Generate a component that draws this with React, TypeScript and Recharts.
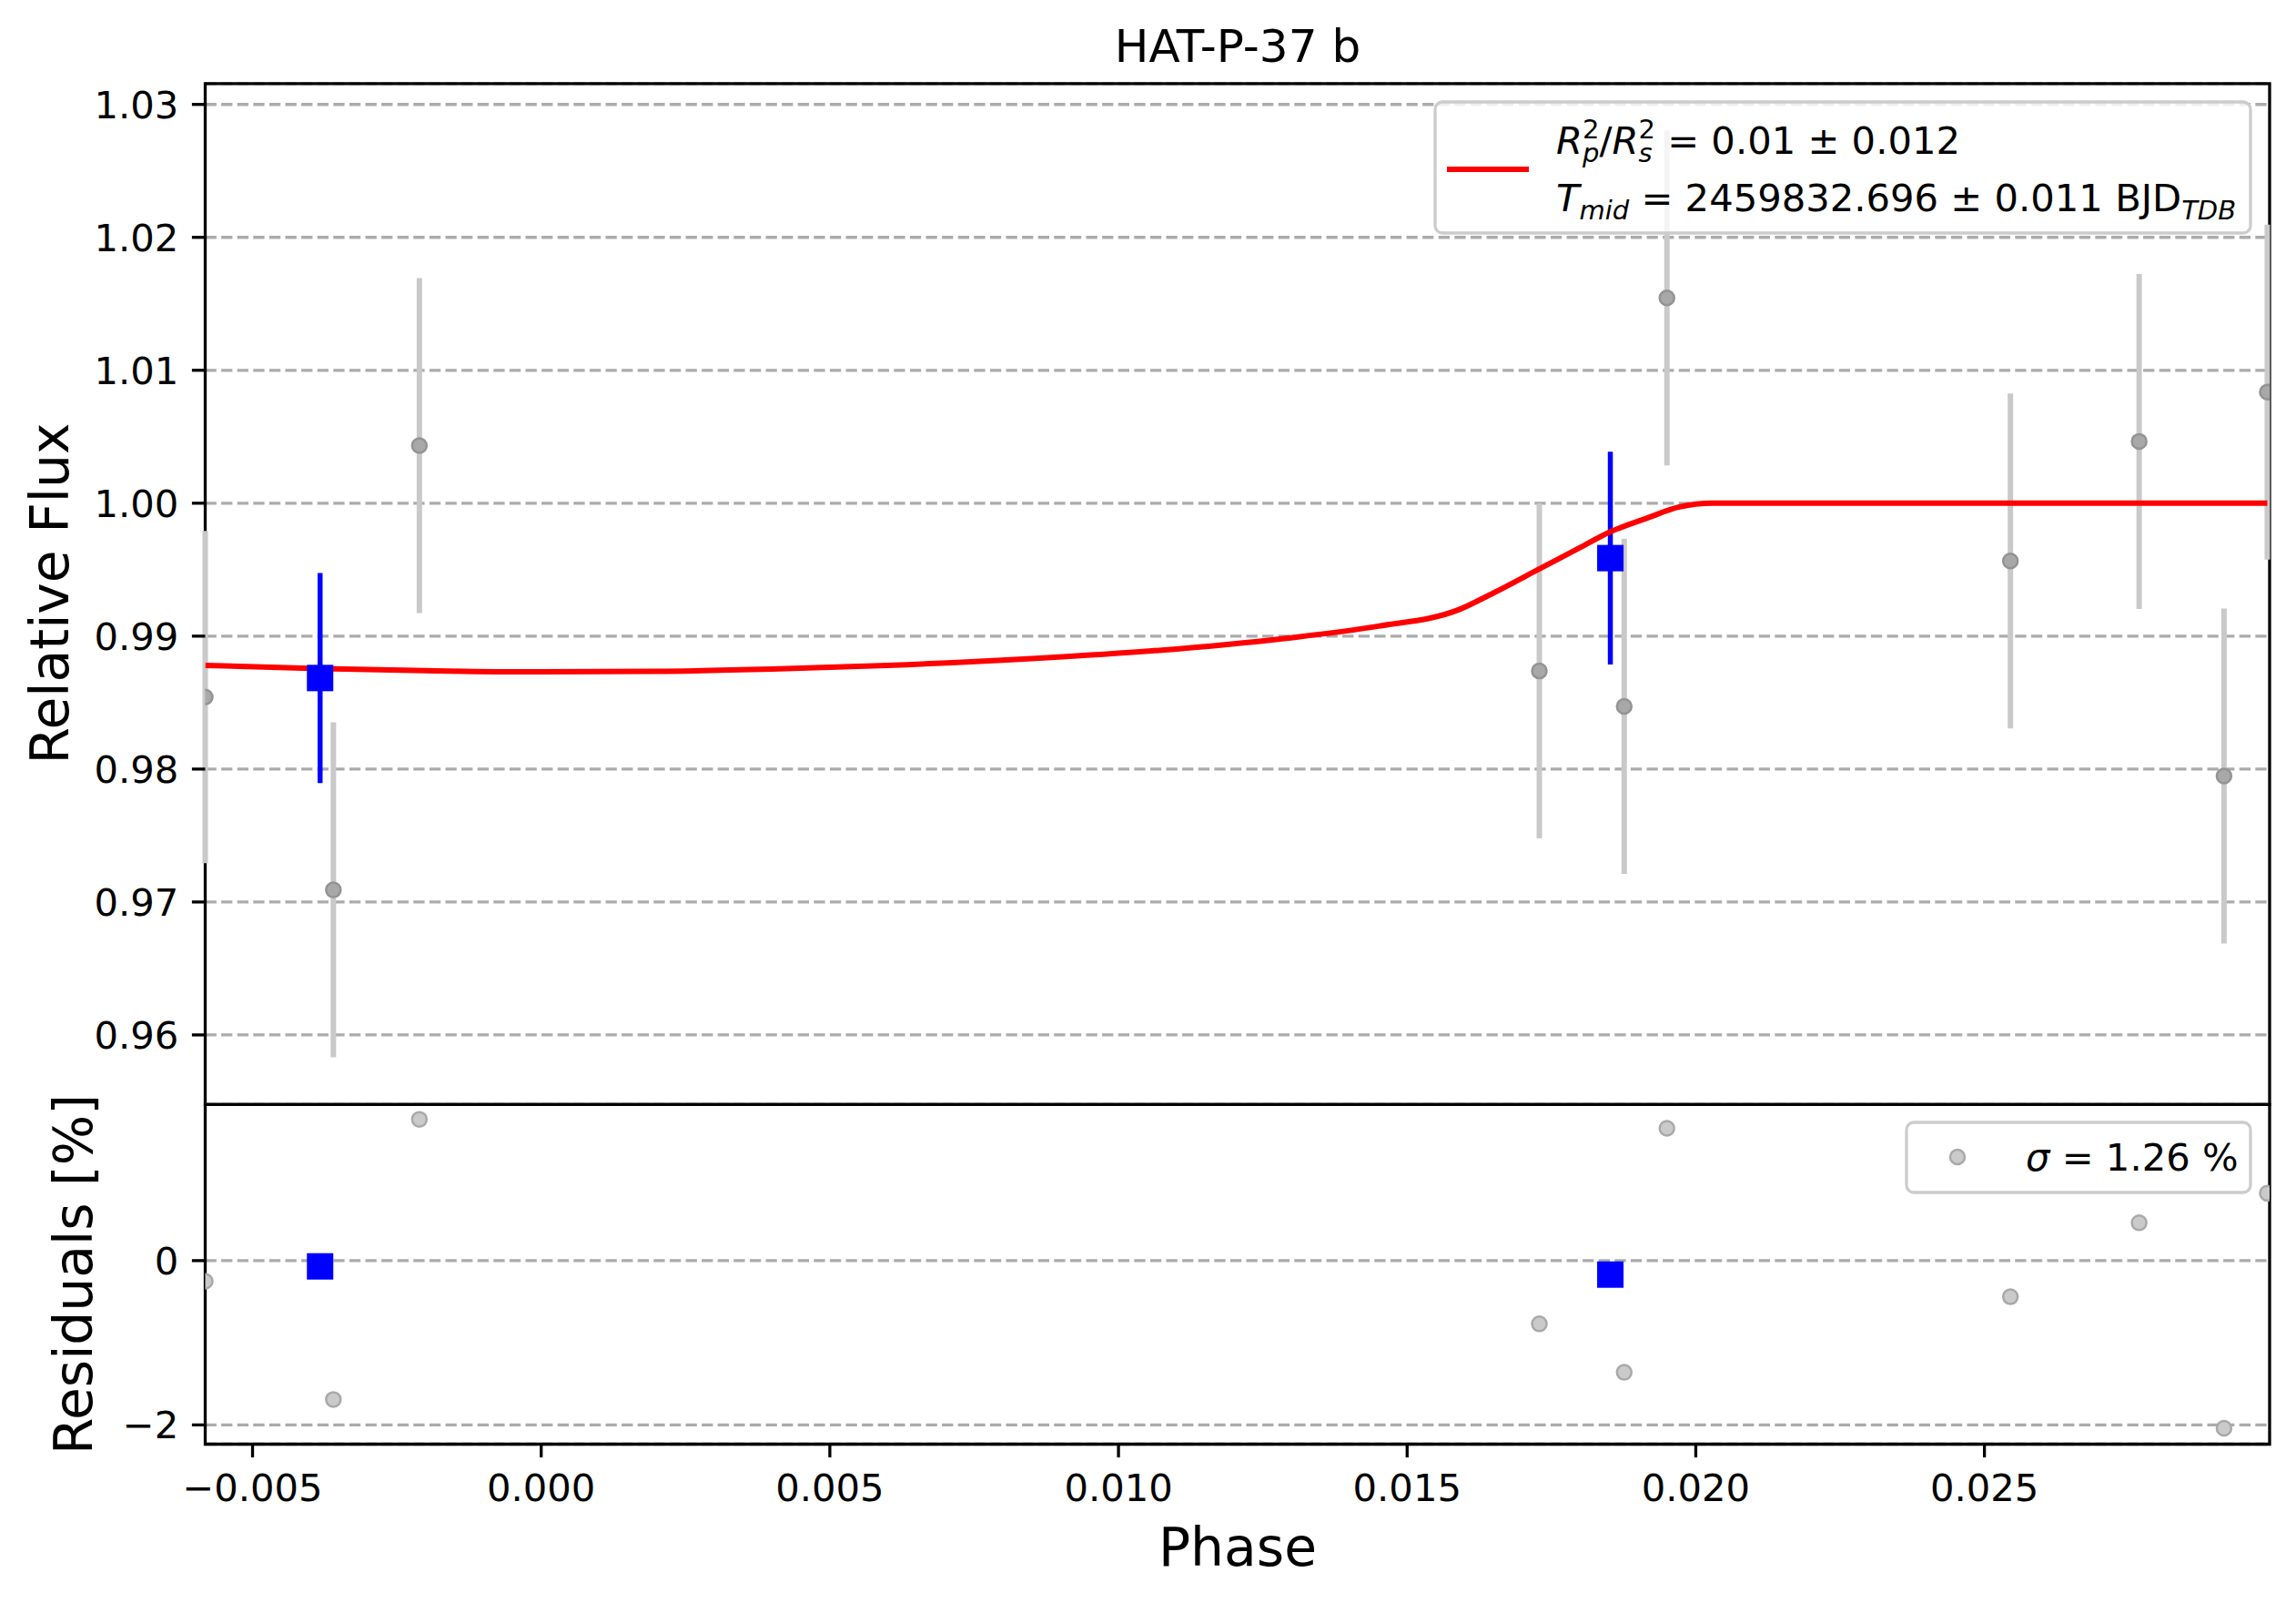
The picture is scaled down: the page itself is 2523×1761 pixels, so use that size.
import React from 'react';
import {
  ComposedChart,
  Scatter,
  Line,
  XAxis,
  YAxis,
  CartesianGrid,
  ErrorBar,
  ReferenceArea,
} from 'recharts';

// ---------- data ----------
const phaseRaw = [-0.00582, -0.0036, -0.00211, 0.01729, 0.01876, 0.0195, 0.02545, 0.02768, 0.02915, 0.0299];
const fluxRaw = [0.98542, 0.97091, 1.00434, 0.98738, 0.98472, 1.01545, 0.99566, 1.00465, 0.97948, 1.00836];
const fluxErrRaw = [0.0125, 0.0126, 0.0126, 0.0126, 0.0126, 0.0126, 0.0126, 0.0126, 0.0126, 0.0126];
const residRaw = [-0.25, -1.69, 1.72, -0.77, -1.36, 1.61, -0.44, 0.46, -2.04, 0.82];

const phaseBin = [-0.00383, 0.01852];
const fluxBin = [0.98685, 0.99587];
const fluxErrBin = [0.0079, 0.008];
const residBin = [-0.07, -0.17];

const modelPhase = [
  -0.00582, -0.004, -0.002, 0.0, 0.002, 0.004, 0.006, 0.0085, 0.0107, 0.0129, 0.0145, 0.0159, 0.0165,
  0.0173, 0.018, 0.0185, 0.0192, 0.0197, 0.0203, 0.0299,
];
const modelFlux = [
  0.9878, 0.98757, 0.9874, 0.98731, 0.98735, 0.98752, 0.9878, 0.98831, 0.98893, 0.98984, 0.99075, 0.992,
  0.99326, 0.99508, 0.99667, 0.99781, 0.99895, 0.9997, 1.0, 1.0,
];

const fluxTicks = [0.96, 0.97, 0.98, 0.99, 1.0, 1.01, 1.02, 1.03];
const residTicks = [-2, 0];
const phaseTicks = [-0.005, 0, 0.005, 0.01, 0.015, 0.02, 0.025];

const phaseDomain = [-0.00582, 0.02994];
const fluxDomain = [0.95477, 1.03157];
const residDomain = [-2.234, 1.901];

// ---------- derived tables ----------
const rawTop = phaseRaw.map((p, i) => ({ phase: p, flux: fluxRaw[i], err: fluxErrRaw[i] }));
const binTop = phaseBin.map((p, i) => ({ phase: p, flux: fluxBin[i], err: fluxErrBin[i] }));
const modelTop = modelPhase.map((p, i) => ({ phase: p, flux: modelFlux[i] }));
const rawRes = phaseRaw.map((p, i) => ({ phase: p, res: residRaw[i] }));
const binRes = phaseBin.map((p, i) => ({ phase: p, res: residBin[i] }));

// ---------- layout ----------
const W = 2523;
const H = 1761;
const FONT = 'DejaVu Sans';
const TICK_FS = 41.7;
const LABEL_FS = 58.3;
const PLOT_LEFT = 225.5;
const PLOT_RIGHT = 2494;
const TOP_Y = 91.8;
const MID_Y = 1213.3;
const BOT_Y = 1586.5;
const YAXIS_W = 200;
const XAXIS_H = 60;

const minus = (s: string) => s.replace('-', '\u2212');
const fmtFlux = (v: number) => v.toFixed(2);
const fmtPhase = (v: number) => minus(Math.abs(v) < 1e-12 ? '0.000' : v.toFixed(3));
const fmtRes = (v: number) => minus(String(Math.round(v)));

const tickStyle = { fill: '#000', fontSize: TICK_FS, fontFamily: FONT };
const tickLineStyle = { stroke: '#000', strokeWidth: 3.3 };

const GrayDotTop = (props: any) =>
  props.cx == null ? null : (
    <circle cx={props.cx} cy={props.cy} r={8} fill="#a8a8a8" stroke="#939393" strokeWidth={2.5} />
  );
const GrayDotRes = (props: any) =>
  props.cx == null ? null : (
    <circle cx={props.cx} cy={props.cy} r={8} fill="#cacaca" stroke="#a9a9a9" strokeWidth={2.5} />
  );
const BlueSquare = (props: any) =>
  props.cx == null ? null : (
    <rect x={props.cx - 14.5} y={props.cy - 14.5} width={29} height={29} fill="#0000ff" />
  );

export default function App() {
  return (
    <div
      style={{
        position: 'absolute',
        left: 0,
        top: 0,
        width: W,
        height: H,
        background: '#fff',
        fontFamily: FONT,
        overflow: 'hidden',
      }}
    >
      {/* top panel */}
      <div style={{ position: 'absolute', left: 0, top: 0 }}>
        <ComposedChart
          width={W}
          height={H}
          margin={{ top: TOP_Y, right: W - PLOT_RIGHT, bottom: H - MID_Y, left: PLOT_LEFT - YAXIS_W }}
        >
          <CartesianGrid
            vertical={false}
            stroke="#ababab"
            strokeWidth={3.3}
            strokeDasharray="12.3 5.3"
          />
          <XAxis
            type="number"
            dataKey="phase"
            domain={phaseDomain}
            allowDataOverflow
            hide
          />
          <YAxis
            type="number"
            dataKey="flux"
            domain={fluxDomain}
            allowDataOverflow
            ticks={fluxTicks}
            interval={0}
            width={YAXIS_W}
            axisLine={false}
            tickLine={tickLineStyle}
            tickSize={14.6}
            tickMargin={14.6}
            tick={tickStyle}
            tickFormatter={fmtFlux}
          />
          <Scatter data={rawTop} dataKey="flux" shape={GrayDotTop} isAnimationActive={false}>
            <ErrorBar
              dataKey="err"
              direction="y"
              width={0}
              stroke="#c9c9c9"
              strokeWidth={6}
              isAnimationActive={false}
            />
          </Scatter>
          <Scatter data={binTop} dataKey="flux" shape={BlueSquare} isAnimationActive={false}>
            <ErrorBar
              dataKey="err"
              direction="y"
              width={0}
              stroke="#0000ff"
              strokeWidth={5.5}
              isAnimationActive={false}
            />
          </Scatter>
          <Line
            data={modelTop}
            dataKey="flux"
            type="monotone"
            stroke="#ff0000"
            strokeWidth={6}
            dot={false}
            activeDot={false}
            isAnimationActive={false}
          />
          <ReferenceArea
            x1={phaseDomain[0]}
            x2={phaseDomain[1]}
            y1={fluxDomain[0]}
            y2={fluxDomain[1]}
            fill="none"
            stroke="#000"
            strokeWidth={3.3}
          />
        </ComposedChart>
      </div>

      {/* residual panel */}
      <div style={{ position: 'absolute', left: 0, top: 0 }}>
        <ComposedChart
          width={W}
          height={H}
          margin={{
            top: MID_Y,
            right: W - PLOT_RIGHT,
            bottom: H - BOT_Y - XAXIS_H,
            left: PLOT_LEFT - YAXIS_W,
          }}
        >
          <CartesianGrid
            vertical={false}
            stroke="#ababab"
            strokeWidth={3.3}
            strokeDasharray="12.3 5.3"
          />
          <XAxis
            type="number"
            dataKey="phase"
            domain={phaseDomain}
            allowDataOverflow
            ticks={phaseTicks}
            interval={0}
            height={XAXIS_H}
            axisLine={false}
            tickLine={tickLineStyle}
            tickSize={14.6}
            tickMargin={18}
            tick={tickStyle}
            tickFormatter={fmtPhase}
          />
          <YAxis
            type="number"
            dataKey="res"
            domain={residDomain}
            allowDataOverflow
            ticks={residTicks}
            interval={0}
            width={YAXIS_W}
            axisLine={false}
            tickLine={tickLineStyle}
            tickSize={14.6}
            tickMargin={14.6}
            tick={tickStyle}
            tickFormatter={fmtRes}
          />
          <Scatter data={rawRes} dataKey="res" shape={GrayDotRes} isAnimationActive={false} />
          <Scatter data={binRes} dataKey="res" shape={BlueSquare} isAnimationActive={false} />
          <ReferenceArea
            x1={phaseDomain[0]}
            x2={phaseDomain[1]}
            y1={residDomain[0]}
            y2={residDomain[1]}
            fill="none"
            stroke="#000"
            strokeWidth={3.3}
          />
        </ComposedChart>
      </div>

      {/* titles, labels and legends */}
      <svg
        width={W}
        height={H}
        style={{ position: 'absolute', left: 0, top: 0, pointerEvents: 'none' }}
        fontFamily={FONT}
      >
        <text x={1360} y={68} fontSize={50} textAnchor="middle" fill="#000">
          HAT-P-37 b
        </text>
        <text x={1360} y={1720} fontSize={LABEL_FS} textAnchor="middle" fill="#000">
          Phase
        </text>
        <text
          x={75}
          y={652}
          fontSize={LABEL_FS}
          textAnchor="middle"
          fill="#000"
          transform="rotate(-90 75 652)"
        >
          Relative Flux
        </text>
        <text
          x={101}
          y={1400}
          fontSize={LABEL_FS}
          textAnchor="middle"
          fill="#000"
          transform="rotate(-90 101 1400)"
        >
          Residuals [%]
        </text>

        {/* top legend */}
        <rect
          x={1577}
          y={112}
          width={896}
          height={144}
          rx={8}
          fill="rgba(255,255,255,0.8)"
          stroke="#cccccc"
          strokeWidth={3.3}
        />
        <line x1={1590} y1={186} x2={1680} y2={186} stroke="#ff0000" strokeWidth={6} />
        <text x={1710} y={169} fontSize={TICK_FS} fill="#000" style={{ whiteSpace: 'pre' }}>
          <tspan fontStyle="italic">R</tspan>
          <tspan fontSize={29} dy={-17}>2</tspan>
          <tspan fontSize={29} fontStyle="italic" dx={-18.4} dy={26}>p</tspan>
          <tspan dy={-9}>/</tspan>
          <tspan fontStyle="italic">R</tspan>
          <tspan fontSize={29} dy={-17}>2</tspan>
          <tspan fontSize={29} fontStyle="italic" dx={-18.4} dy={26}>s</tspan>
          <tspan dx={3.3} dy={-9}>{' = 0.01 \u00b1 0.012'}</tspan>
        </text>
        <text x={1710} y={232} fontSize={TICK_FS} fill="#000" style={{ whiteSpace: 'pre' }}>
          <tspan fontStyle="italic">T</tspan>
          <tspan fontSize={29} fontStyle="italic" dy={9}>mid</tspan>
          <tspan dy={-9}>{' = 2459832.696 \u00b1 0.011 BJD'}</tspan>
          <tspan fontSize={29} fontStyle="italic" dy={9}>TDB</tspan>
        </text>

        {/* residual legend */}
        <rect
          x={2095}
          y={1233}
          width={378}
          height={77}
          rx={8}
          fill="rgba(255,255,255,0.8)"
          stroke="#cccccc"
          strokeWidth={3.3}
        />
        <circle cx={2151} cy={1271} r={8} fill="#cacaca" stroke="#a9a9a9" strokeWidth={2.5} />
        <text x={2226} y={1286} fontSize={TICK_FS} fill="#000" style={{ whiteSpace: 'pre' }}>
          <tspan fontStyle="italic">{'\u03c3'}</tspan>
          <tspan>{' = 1.26 %'}</tspan>
        </text>
      </svg>
    </div>
  );
}
